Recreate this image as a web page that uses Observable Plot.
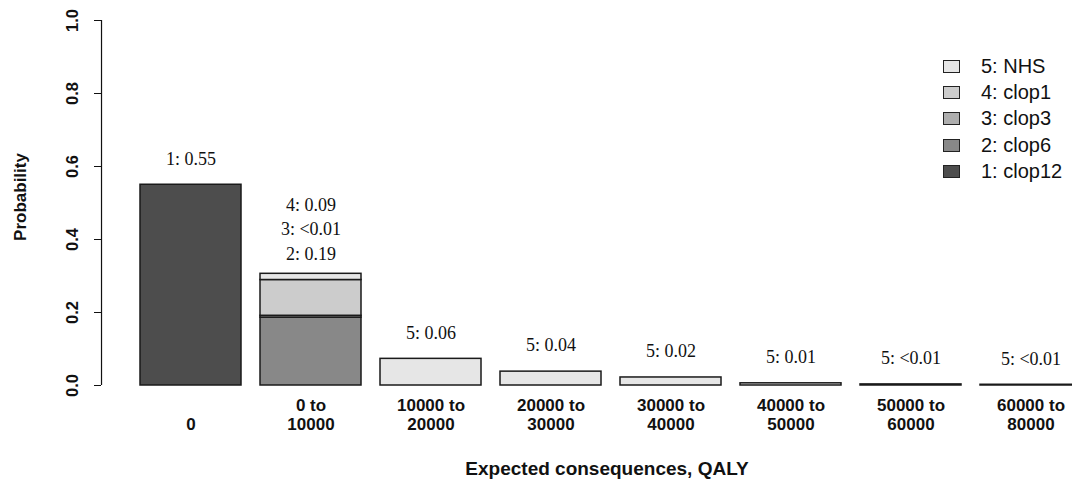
<!DOCTYPE html>
<html><head><meta charset="utf-8">
<script src="https://cdn.jsdelivr.net/npm/d3@7"></script>
<script src="https://cdn.jsdelivr.net/npm/@observablehq/plot@0.6"></script>
<style>
body{margin:0;background:#fff;}
#wrap{position:relative;width:1072px;height:483px;}
.legend{position:absolute;left:943px;top:53px;font-family:"Liberation Sans",Arial,sans-serif;font-size:20px;color:#111;}
.legend .row{display:flex;align-items:center;height:26.3px;}
.legend .sw{width:17px;height:13px;border:1.3px solid #222;box-sizing:border-box;margin-right:21px;}
</style></head><body><div id="wrap"></div>
<script>
const categories = ["0", "0 to\n10000", "10000 to\n20000", "20000 to\n30000", "30000 to\n40000", "40000 to\n50000", "50000 to\n60000", "60000 to\n80000"];
const seriesNames = ["1: clop12", "2: clop6", "3: clop3", "4: clop1", "5: NHS"];
const seriesColors = ["#4d4d4d", "#888888", "#aeaeae", "#cccccc", "#e6e6e6"];
const clop12 = [0.55, 0, 0, 0, 0, 0, 0, 0];
const clop6  = [0, 0.186, 0, 0, 0, 0, 0, 0];
const clop3  = [0, 0.005, 0, 0, 0, 0, 0, 0];
const clop1  = [0, 0.098, 0, 0, 0, 0, 0, 0];
const nhs    = [0, 0.017, 0.073, 0.038, 0.022, 0.006, 0.003, 0.002];
// labels above each bar, listed top line first
const barLabels = [["1: 0.55"], ["4: 0.09", "3: <0.01", "2: 0.19"], ["5: 0.06"], ["5: 0.04"], ["5: 0.02"], ["5: 0.01"], ["5: <0.01"], ["5: <0.01"]];
const yTicks = [0, 0.2, 0.4, 0.6, 0.8, 1.0];
const xTitle = "Expected consequences, QALY";
const yTitle = "Probability";

const seriesValues = [clop12, clop6, clop3, clop1, nhs];
const table = [];
seriesValues.forEach((vals, s) => vals.forEach((v, i) => {
  if (v > 0) table.push({cat: categories[i], series: seriesNames[s], value: v});
}));
const totals = categories.map((c, i) => d3.sum(seriesValues, vals => vals[i]));
const labelRows = [];
barLabels.forEach((lines, i) => lines.forEach((t, j) => {
  labelRows.push({cat: categories[i], total: totals[i], text: t, k: lines.length - 1 - j, multi: lines.length > 1});
}));

const sans = "'Liberation Sans', Arial, sans-serif";
const serif = "'Liberation Serif', 'Times New Roman', serif";
const W = 1072, ML = 101, MR = 0;
const xRange = [121, 1100], pad = 0.158;
const xScale = d3.scaleBand().domain(categories).range(xRange).paddingInner(pad).paddingOuter(pad);
// offset from the first band's centre to the left frame edge (axis line)
const axisDx = ML - (xScale(categories[0]) + xScale.bandwidth() / 2);

const chart = Plot.plot({
  width: W,
  height: 483,
  marginLeft: ML,
  marginRight: MR,
  marginTop: 20,
  marginBottom: 98,
  style: {fontFamily: sans, background: "#fff", color: "#111"},
  x: {domain: categories, range: xRange, paddingInner: pad, paddingOuter: pad},
  y: {domain: [0, 1]},
  color: {domain: seriesNames, range: seriesColors},
  marks: [
    Plot.barY(table, {x: "cat", y: "value", fill: "series", order: seriesNames, stroke: "#1a1a1a", strokeWidth: 1.5}),
    Plot.text(labelRows.filter(d => !d.multi), {x: "cat", y: "total", text: "text", dy: -26, fontFamily: serif, fontSize: 18, fill: "#111"}),
    ...[0, 1, 2].map(k => Plot.text(labelRows.filter(d => d.multi && d.k === k), {x: "cat", y: "total", text: "text", dy: -20 - 24.5 * k, fontFamily: serif, fontSize: 18, fill: "#111"})),
    Plot.ruleX([categories[0]], {x: d => d, y1: 0, y2: 1, dx: axisDx, stroke: "#111", strokeWidth: 1.2}),
    Plot.axisY({ticks: yTicks, tickFormat: d3.format(".1f"), tickSize: 7, tickRotate: -90, tickPadding: 17, label: null, fontSize: 16.5, fontWeight: "bold", stroke: "#111"}),
    Plot.axisX({tickSize: 0, tickPadding: 0, label: null, lineAnchor: "bottom", dy: 44, lineHeight: 1.08, fontSize: 17, fontWeight: "bold"}),
    Plot.text([yTitle], {text: d => d, frameAnchor: "left", textAnchor: "middle", dx: -81, dy: -6, rotate: -90, fontSize: 17, fontWeight: "bold"}),
    Plot.text([xTitle], {text: d => d, frameAnchor: "bottom", textAnchor: "middle", lineAnchor: "middle", dx: 20, dy: 83, fontSize: 19, fontWeight: "bold"})
  ]
});
const wrap = document.getElementById("wrap");
wrap.appendChild(chart);

const legend = document.createElement("div");
legend.className = "legend";
seriesNames.slice().reverse().forEach((name) => {
  const row = document.createElement("div");
  row.className = "row";
  const sw = document.createElement("span");
  sw.className = "sw";
  sw.style.background = seriesColors[seriesNames.indexOf(name)];
  const lab = document.createElement("span");
  lab.textContent = name;
  row.appendChild(sw); row.appendChild(lab);
  legend.appendChild(row);
});
wrap.appendChild(legend);
</script></body></html>
